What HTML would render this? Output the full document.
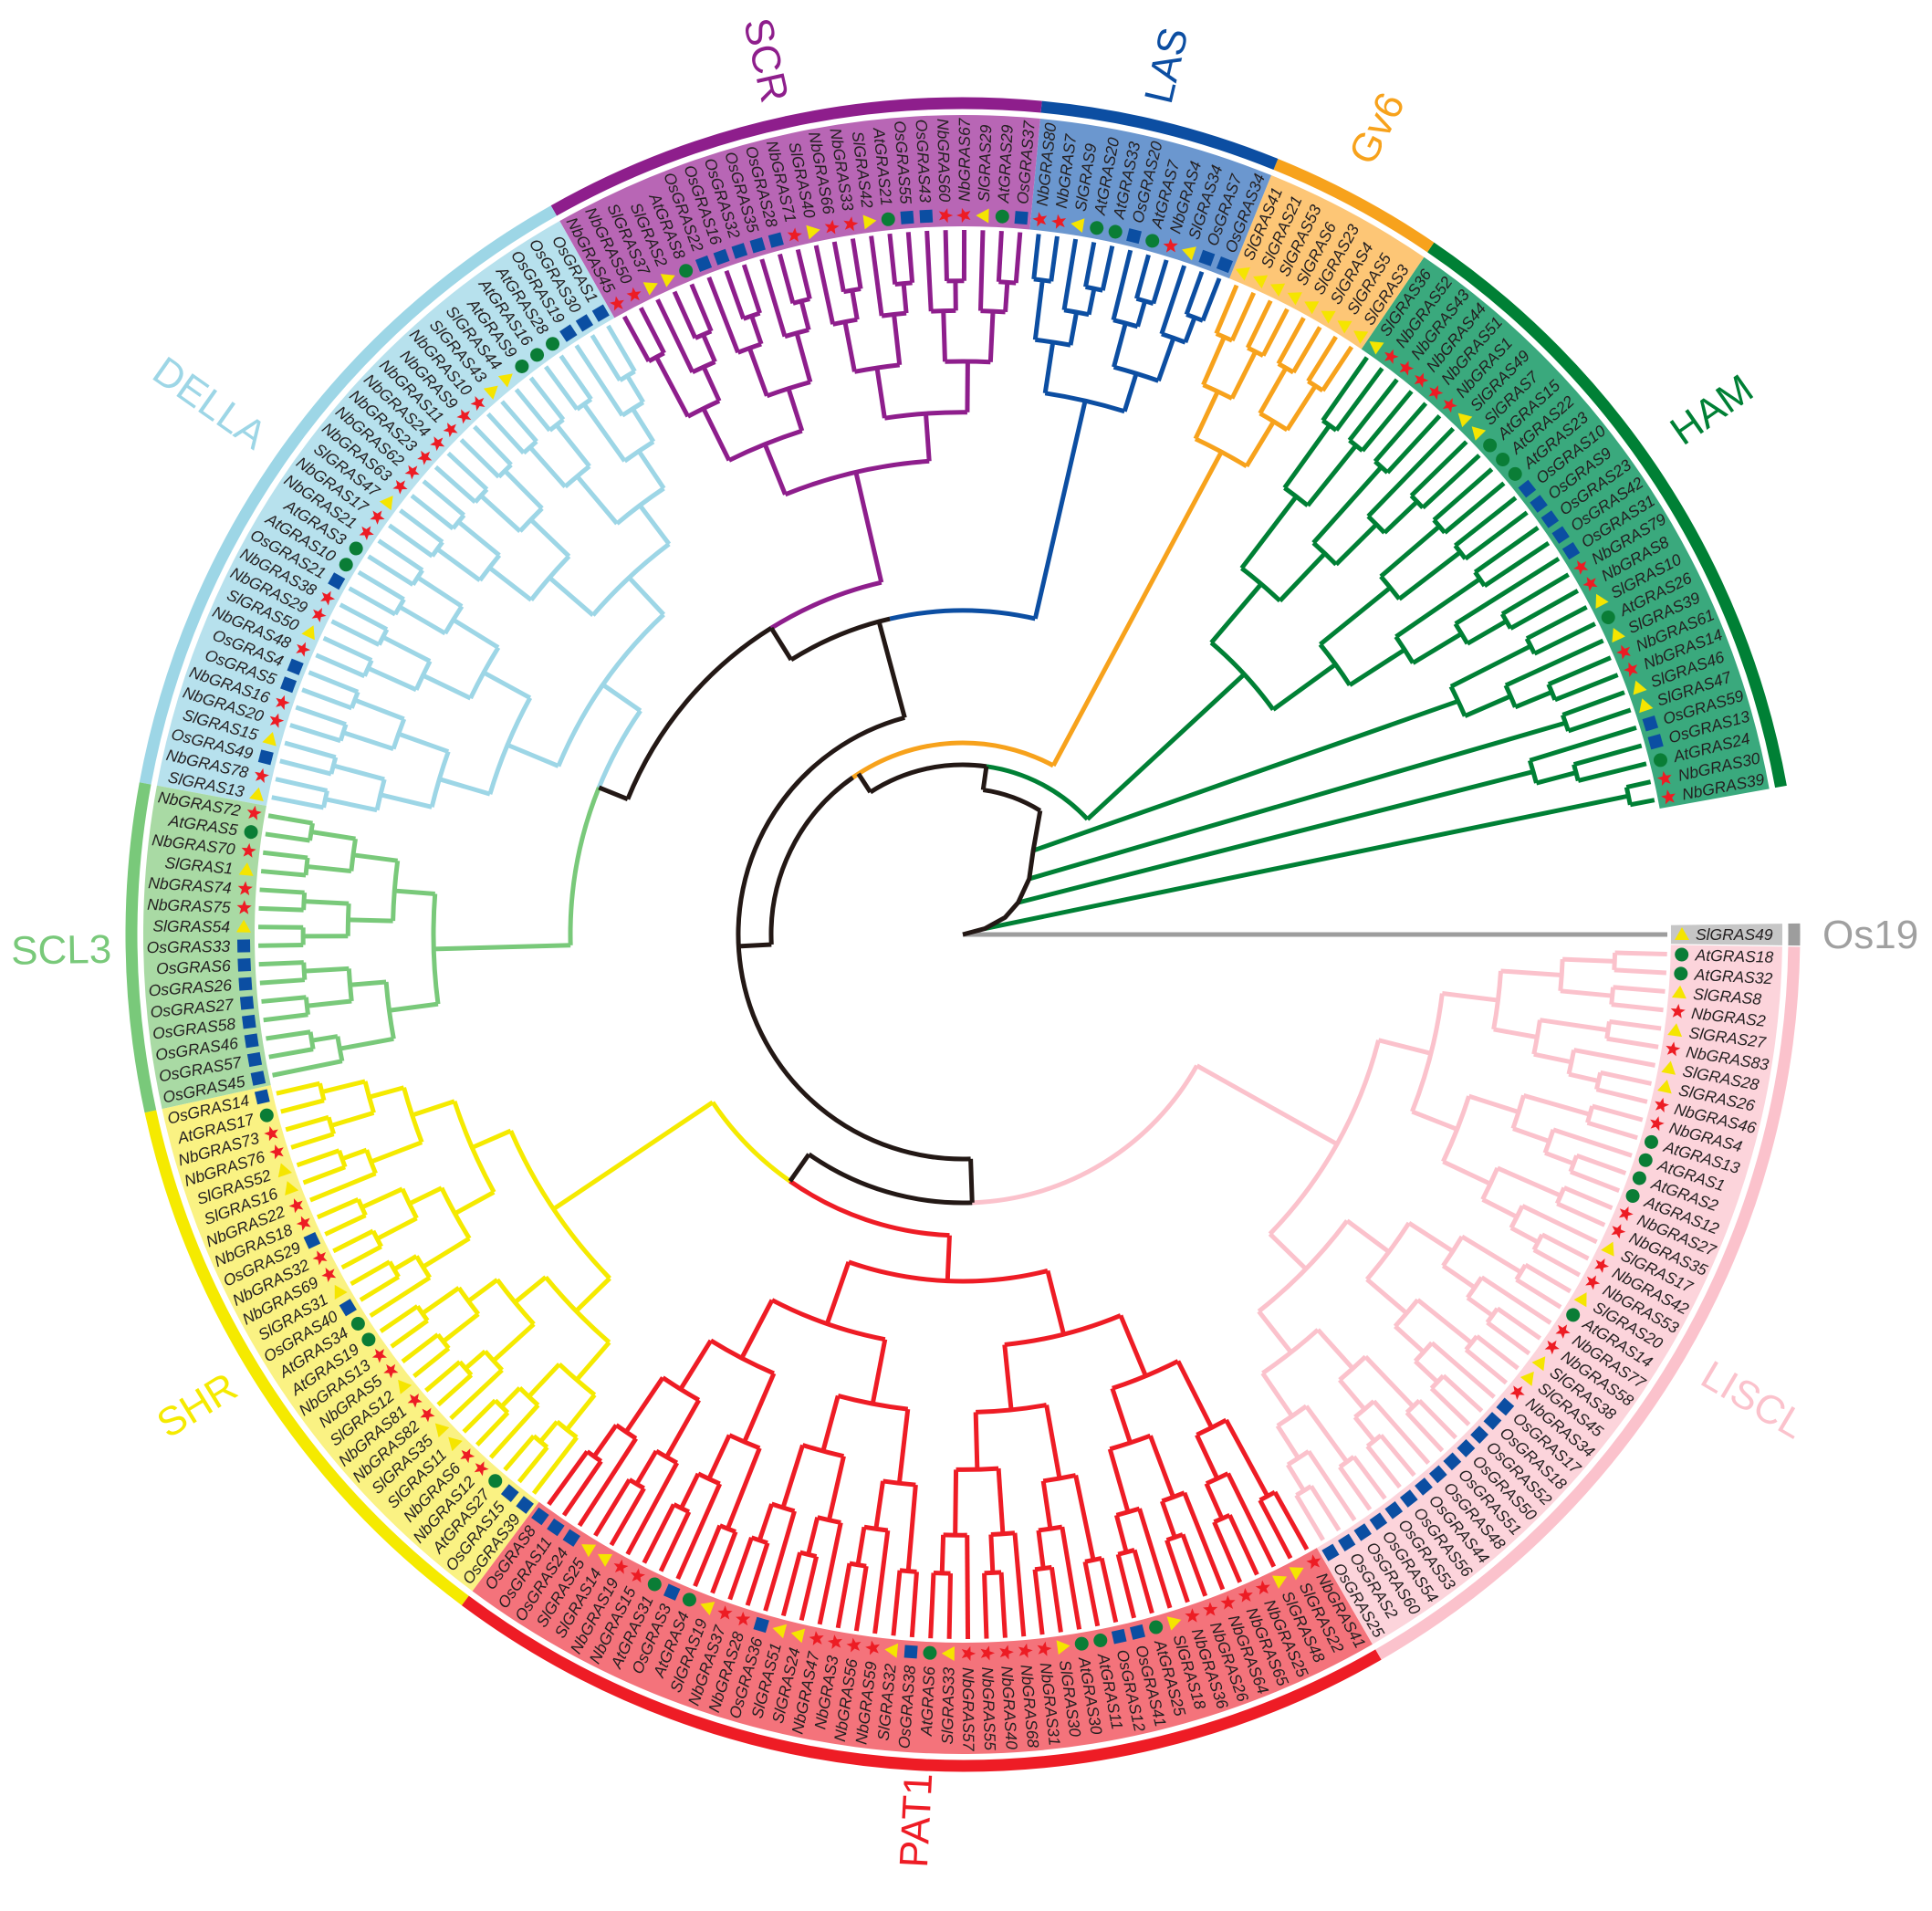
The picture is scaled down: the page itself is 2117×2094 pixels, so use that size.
<!DOCTYPE html>
<html><head><meta charset="utf-8"><title>GRAS phylogenetic tree</title>
<style>
html,body{margin:0;padding:0;background:#fff;}
svg{display:block;}
.leaf{font-family:"Liberation Sans",sans-serif;font-style:italic;font-size:17.5px;fill:#231f20;}
.clade{font-family:"Liberation Sans",sans-serif;font-size:44px;}
</style></head>
<body>
<svg id="chart" xmlns="http://www.w3.org/2000/svg" width="2117" height="2094" viewBox="0 0 2117 2094">
<rect width="2117" height="2094" fill="#fff"/>
<g id="bands"></g>
<g id="arcs"></g>
<g id="branches"></g>
<g id="leaves"></g>
<g id="cladeLabels"></g>
<text x="1997" y="1039" class="clade" fill="#a0a0a0">Os19</text>
</svg>
<script>
// ---- data: leaves per clade in counter-clockwise order ----
const hamLeaves=["NbGRAS39","NbGRAS30","AtGRAS24","OsGRAS13","OsGRAS59","SlGRAS47","SlGRAS46","NbGRAS14","NbGRAS61","SlGRAS39","AtGRAS26","SlGRAS10","NbGRAS8","NbGRAS79","OsGRAS31","OsGRAS42","OsGRAS23","OsGRAS9","OsGRAS10","AtGRAS23","AtGRAS22","AtGRAS15","SlGRAS7","SlGRAS49","NbGRAS1","NbGRAS51","NbGRAS44","NbGRAS43","NbGRAS52","SlGRAS36"];
const gv6Leaves=["SlGRAS3","SlGRAS5","SlGRAS4","SlGRAS23","SlGRAS6","SlGRAS53","SlGRAS21","SlGRAS41"];
const lasLeaves=["OsGRAS34","OsGRAS7","SlGRAS34","NbGRAS4","AtGRAS7","OsGRAS20","AtGRAS33","AtGRAS20","SlGRAS9","NbGRAS7","NbGRAS80"];
const scrLeaves=["OsGRAS37","AtGRAS29","SlGRAS29","NbGRAS67","NbGRAS60","OsGRAS43","OsGRAS55","AtGRAS21","SlGRAS42","NbGRAS33","NbGRAS66","SlGRAS40","NbGRAS71","OsGRAS28","OsGRAS35","OsGRAS32","OsGRAS16","OsGRAS22","AtGRAS8","SlGRAS2","SlGRAS37","NbGRAS50","NbGRAS45"];
const dellaLeaves=["OsGRAS1","OsGRAS30","OsGRAS19","AtGRAS28","AtGRAS16","AtGRAS9","SlGRAS44","SlGRAS43","NbGRAS10","NbGRAS9","NbGRAS11","NbGRAS24","NbGRAS23","NbGRAS62","NbGRAS63","SlGRAS47","NbGRAS17","NbGRAS21","AtGRAS3","AtGRAS10","OsGRAS21","NbGRAS38","NbGRAS29","SlGRAS50","NbGRAS48","OsGRAS4","OsGRAS5","NbGRAS16","NbGRAS20","SlGRAS15","OsGRAS49","NbGRAS78","SlGRAS13"];
const scl3Leaves=["NbGRAS72","AtGRAS5","NbGRAS70","SlGRAS1","NbGRAS74","NbGRAS75","SlGRAS54","OsGRAS33","OsGRAS6","OsGRAS26","OsGRAS27","OsGRAS58","OsGRAS46","OsGRAS57","OsGRAS45"];
const shrLeaves=["OsGRAS14","AtGRAS17","NbGRAS73","NbGRAS76","SlGRAS52","SlGRAS16","NbGRAS22","NbGRAS18","OsGRAS29","NbGRAS32","NbGRAS69","SlGRAS31","OsGRAS40","AtGRAS34","AtGRAS19","NbGRAS13","NbGRAS5","SlGRAS12","NbGRAS81","NbGRAS82","SlGRAS35","SlGRAS11","NbGRAS6","NbGRAS12","AtGRAS27","OsGRAS15","OsGRAS39"];
const pat1Leaves=["OsGRAS8","OsGRAS11","OsGRAS24","SlGRAS25","SlGRAS14","NbGRAS19","NbGRAS15","AtGRAS31","OsGRAS3","AtGRAS4","SlGRAS19","NbGRAS37","NbGRAS28","OsGRAS36","SlGRAS51","SlGRAS24","NbGRAS47","NbGRAS3","NbGRAS56","NbGRAS59","SlGRAS32","OsGRAS38","AtGRAS6","SlGRAS33","NbGRAS57","NbGRAS55","NbGRAS40","NbGRAS68","NbGRAS31","SlGRAS30","AtGRAS30","AtGRAS11","OsGRAS12","OsGRAS41","AtGRAS25","SlGRAS18","NbGRAS36","NbGRAS26","NbGRAS64","NbGRAS65","NbGRAS25","SlGRAS48","SlGRAS22","NbGRAS41"];
const lisclLeaves=["OsGRAS25","OsGRAS2","OsGRAS60","OsGRAS54","OsGRAS53","OsGRAS56","OsGRAS44","OsGRAS48","OsGRAS51","OsGRAS50","OsGRAS52","OsGRAS18","OsGRAS17","NbGRAS34","SlGRAS45","SlGRAS38","NbGRAS58","NbGRAS77","AtGRAS14","SlGRAS20","NbGRAS53","NbGRAS42","SlGRAS17","NbGRAS35","NbGRAS27","AtGRAS12","AtGRAS2","AtGRAS1","AtGRAS13","NbGRAS4","NbGRAS46","SlGRAS26","SlGRAS28","NbGRAS83","SlGRAS27","NbGRAS2","SlGRAS8","AtGRAS32","AtGRAS18"];
const outgroupLeaves=["SlGRAS49"];
const cladeNames=["HAM","Gv6","LAS","SCR","DELLA","SCL3","SHR","PAT1","LISCL"];

// ---- layout/style config ----
const cx=1055, cy=1024, leafR=772, bandR1=776, bandR2=898, arcR=911, symR=788, textR=803;
const startA=11, endA=358.4;
const clades=[
 {leaves:hamLeaves,  color:"#008035",band:"#3aa97d",lab:[35,1002]},
 {leaves:gv6Leaves,  color:"#f7a21c",band:"#fdc676",lab:[62.8,993],stemR:210,attA:125,rootR:600},
 {leaves:lasLeaves,  color:"#0c4ea2",band:"#6b97cf",lab:[76.8,978],stemR:355,attA:103,rootR:600},
 {leaves:scrLeaves,  color:"#8e1e8c",band:"#b866b5",lab:[102.7,982],stemR:396,attA:122,rootR:520},
 {leaves:dellaLeaves,color:"#9dd6e6",band:"#b7e1ed",lab:[144.8,1010],stemR:430,attA:158,rootR:480},
 {leaves:scl3Leaves, color:"#79c97a",band:"#a9daa4",lab:[181,988],stemR:430,attA:158,rootR:580},
 {leaves:shrLeaves,  color:"#f5ea00",band:"#faf283",lab:[211.6,985],stemR:330,attA:235,rootR:540},
 {leaves:pat1Leaves, color:"#ee1c25",band:"#f4737b",lab:[267,972],stemR:330,attA:235,rootR:380},
 {leaves:lisclLeaves,color:"#fbc2cc",band:"#fcd4db",lab:[329.5,1005],stemR:294,attA:272,rootR:470}
];
const NS="http://www.w3.org/2000/svg";
function P(r,a){const t=a*Math.PI/180;return [(cx+r*Math.cos(t)).toFixed(2),(cy-r*Math.sin(t)).toFixed(2)];}
function arcD(r,a1,a2){if(a1>a2){const t=a1;a1=a2;a2=t;}const p1=P(r,a1),p2=P(r,a2);const lg=(a2-a1)>180?1:0;return "M"+p1+" A"+r+" "+r+" 0 "+lg+" 0 "+p2;}
function radD(a,r1,r2){return "M"+P(r1,a)+" L"+P(r2,a);}
function wedgeD(r1,r2,a1,a2){const lg=(a2-a1)>180?1:0;return "M"+P(r1,a1)+" A"+r1+" "+r1+" 0 "+lg+" 0 "+P(r1,a2)+" L"+P(r2,a2)+" A"+r2+" "+r2+" 0 "+lg+" 1 "+P(r2,a1)+" Z";}
function mk(tag,attrs,parent){const e=document.createElementNS(NS,tag);for(const k in attrs)e.setAttribute(k,attrs[k]);parent.appendChild(e);return e;}

const total=clades.reduce((s,c)=>s+c.leaves.length,0);
const step=(endA-startA)/(total-1);
const gB=document.getElementById("bands"),gA=document.getElementById("arcs"),gT=document.getElementById("branches"),gL=document.getElementById("leaves"),gC=document.getElementById("cladeLabels");

function path(d,color,w,name,parent){
  const e=mk("path",{d:d,fill:"none",stroke:color,"stroke-width":w,"stroke-linejoin":"miter"},parent||gT);
  
  
  return e;
}
function starPts(R,r){let s=[];for(let i=0;i<10;i++){const rr=i%2?r:R;const t=(-90+i*36)*Math.PI/180;s.push((rr*Math.cos(t)).toFixed(2)+","+(rr*Math.sin(t)).toFixed(2));}return s.join(" ");}

function drawLeaf(name,a,left){
  const g=mk("g",{transform:"translate("+cx+","+cy+") rotate("+(-a)+")"+(left?" rotate(180)":"")},gL);
  
  
  const sx=left?-symR:symR;
  const pre=name.slice(0,2);
  let sym;
  if(pre==="At") sym=mk("circle",{cx:sx,cy:0,r:7.5,fill:"#0a7d36"},g);
  else if(pre==="Os") sym=mk("rect",{x:sx-7,y:-7,width:14,height:14,fill:"#0b4ea2"},g);
  else if(pre==="Sl") sym=mk("polygon",{points:(sx-8)+",6 "+(sx+8)+",6 "+sx+",-8",fill:"#f5e500"},g);
  else sym=mk("polygon",{points:starPts(8.5,3.6),transform:"translate("+sx+",0)",fill:"#ed1c24"},g);
  
  
  const t=mk("text",{x:left?-textR:textR,y:6,"text-anchor":left?"end":"start",class:"leaf"},g);
  t.textContent=name;
  
  
}

function build(ang,lo,hi){if(lo===hi)return{a:ang[lo],n:1,leaf:true};const m=Math.floor((lo+hi)/2);const L=build(ang,lo,m),R=build(ang,m+1,hi);return{a:(L.a+R.a)/2,n:hi-lo+1,L:L,R:R};}
function drawNode(node,parentR,rootR,Nt,color){
  const r=node.leaf?leafR:rootR+(leafR-rootR)*(1-Math.log2(node.n)/Math.log2(Nt));
  if(Math.abs(r-parentR)>0.1) path(radD(node.a,parentR,r),color,5,"branch");
  if(!node.leaf){path(arcD(r,node.L.a,node.R.a),color,5,"branch-node");drawNode(node.L,r,rootR,Nt,color);drawNode(node.R,r,rootR,Nt,color);}
}

let idx=0;
clades.forEach((c,ci)=>{
  const ang=c.leaves.map((_,i)=>startA+(idx+i)*step);
  idx+=c.leaves.length;
  const a1=ang[0]-step/2,a2=ang[ang.length-1]+step/2;
  const w=mk("path",{d:wedgeD(bandR1,bandR2,a1,a2),fill:c.band},gB);
  
  
  path(arcD(arcR,a1,a2),c.color,13,'outer-arc-'+cladeNames[ci].toLowerCase(),gA);
  c.leaves.forEach((n,i)=>{const a=ang[i];const left=Math.cos(a*Math.PI/180)<0;drawLeaf(n,a,left);});
  // clade label
  const la=c.lab[0],lr=c.lab[1];const p=P(lr,la);const left=Math.cos(la*Math.PI/180)<0;
  const rot=left?180-la:-la;
  const t=mk("text",{x:0,y:0,transform:"translate("+p[0]+","+p[1]+") rotate("+rot+")","text-anchor":"middle","dominant-baseline":"central",class:"clade",fill:c.color},gC);
  t.textContent=cladeNames[ci];
  
  
  // tree
  if(ci===0){
    const groups=[[0,1,745,[15,25]],[2,4,650,[30,70]],[5,6,700,[40,95]],[7,11,600,[50,120]]];
    groups.forEach(g=>{const sub=ang.slice(g[0],g[1]+1);const root=build(sub,0,sub.length-1);
      const rp=P(g[2],root.a),sp=P(g[3][1],g[3][0]);
      path("M"+sp+" L"+rp,c.color,5,"ham-stem");
      drawNode(root,g[2],g[2],sub.length,c.color);});
    const sub=ang.slice(12);const root=build(sub,0,sub.length-1);
    path(arcD(186,root.a,82),c.color,5,"ham-connector");
    drawNode(root,186,420,sub.length,c.color);
  } else {
    const root=build(ang,0,ang.length-1);
    path(arcD(c.stemR,c.attA,root.a),c.color,5,"clade-connector");
    drawNode(root,c.stemR,c.rootR,ang.length,c.color);
  }
});
// outgroup
const og=mk("path",{d:wedgeD(bandR1,bandR2,-step/2,step/2),fill:"#c6c6c6"},gB);


path(arcD(arcR,-step/2,step/2),"#9d9d9d",13,"outer-arc-os19",gA);
drawLeaf(outgroupLeaves[0],0,false);
path(radD(0,0,leafR),"#9d9d9d",5,"outgroup-branch");
// backbone (black)
const bk="#231815";
path(arcD(246,105,272),bk,5,"backbone");
path(radD(105,246,355),bk,5,"backbone");
path(arcD(355,103,122),bk,5,"backbone");
path(radD(122,355,396),bk,5,"backbone");
path(arcD(396,122,158),bk,5,"backbone");
path(radD(158,396,430),bk,5,"backbone");
path(radD(183,210,246),bk,5,"backbone");
path(arcD(210,125,183),bk,5,"backbone");
path(radD(123,186,210),bk,5,"backbone");
path(arcD(186,82,123),bk,5,"backbone");
path(radD(82,160,186),bk,5,"backbone");
path(arcD(160,58,82),bk,5,"backbone");
path("M"+P(160,58)+" L"+P(120,50)+" L"+P(95,40)+" L"+P(70,30)+" L"+P(50,22)+" L"+P(25,15)+" L"+cx+","+cy,bk,5,"backbone-ladder");
path(arcD(294,235,272),bk,5,"backbone");
path(radD(272,246,294),bk,5,"backbone");
path(radD(235,294,330),bk,5,"backbone");
</script>
</body></html>
